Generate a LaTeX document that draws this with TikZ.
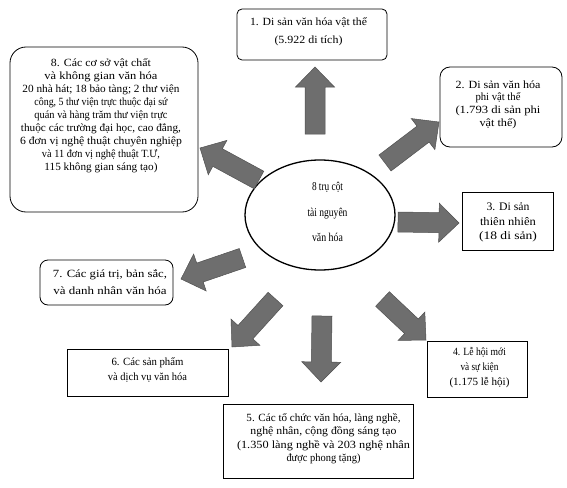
\documentclass[tikz,border=0pt]{standalone}
\usepackage{fontspec}
\usepackage{graphicx}
\setmainfont{Liberation Serif}
\usetikzlibrary{calc,shapes.geometric}
\definecolor{arrowgrey}{RGB}{110,110,110}
\definecolor{arrowedge}{RGB}{80,80,80}
\tikzset{
 box/.style={draw=black, line width=0.8pt, inner sep=0pt},
 txt/.style={align=center, inner sep=0pt, font={\fontsize{11}{13}\selectfont}},
 arrowfill/.style={fill=arrowgrey, draw=arrowedge, line width=0.5pt, line join=miter},
}
\newcommand\fitline[2]{\resizebox{#1pt}{\height}{#2}}
\newcommand\blockarrow[2]{%
  \coordinate (#1-base) at ($(#2)!20pt!(#1)$);
  \filldraw[arrowfill] ($(#1)!10pt!90:(#2)$) -- ($(#1-base)!10pt!90:(#2)$) -- ($(#1-base)!19.5pt!90:(#2)$) -- (#2)
    -- ($(#1-base)!19.5pt!-90:(#2)$) -- ($(#1-base)!10pt!-90:(#2)$) -- ($(#1)!10pt!-90:(#2)$) -- cycle;
}
\begin{document}
\begin{tikzpicture}[x=1pt,y=-1pt]
\useasboundingbox (0,0) rectangle (567,487);
\fill[white] (0,0) rectangle (567,487);
% boxes
\node[box, rounded corners=5pt, minimum width=150pt, minimum height=51pt] (b1) at (312,34.5) {};
\node[box, rounded corners=10pt, minimum width=122pt, minimum height=80pt] (b2) at (501,107) {};
\node[box, minimum width=91pt, minimum height=58pt] (b3) at (507.5,221) {};
\node[box, minimum width=100pt, minimum height=56pt] (b4) at (477,369) {};
\node[box, minimum width=190pt, minimum height=74pt] (b5) at (318,441) {};
\node[box, minimum width=161pt, minimum height=47pt] (b6) at (147.5,372.5) {};
\node[box, rounded corners=8pt, minimum width=133pt, minimum height=45pt] (b7) at (106.5,282.5) {};
\node[box, rounded corners=16pt, minimum width=188pt, minimum height=165pt] (b8) at (104,129.5) {};
\node[draw=black, line width=1.3pt, ellipse, minimum width=150pt, minimum height=110pt, inner sep=0pt] (c) at (320,215) {};
% texts
\node[txt, font={\fontsize{11}{18}\selectfont}] (t1) at (308.5,31.5) {\fitline{117}{1. Di sản văn hóa vật thể}\\\fitline{68}{(5.922 di tích)}};
\node[txt, font={\fontsize{11}{12.7}\selectfont}] (t2) at (498,104.5) {\fitline{85}{2. Di sản văn hóa}\\\fitline{45}{phi vật thể}\\\fitline{85}{(1.793 di sản phi}\\\fitline{37}{vật thể)}};
\node[txt, font={\fontsize{11.5}{14.5}\selectfont}] (t3) at (508,222.5) {\fitline{43}{3. Di sản}\\\fitline{56}{thiên nhiên}\\\fitline{58}{(18 di sản)}};
\node[txt, font={\fontsize{11}{15}\selectfont}] (t4) at (479.5,367.5) {\fitline{53}{4. Lễ hội mới}\\\fitline{38}{và sự kiện}\\\fitline{60}{(1.175 lễ hội)}};
\node[txt, font={\fontsize{11}{13.4}\selectfont}] (t5) at (323.5,438.5) {\fitline{154}{5. Các tổ chức văn hóa, làng nghề,}\\\fitline{146}{nghệ nhân, cộng đồng sáng tạo}\\\fitline{173}{(1.350 làng nghề và 203 nghệ nhân}\\\fitline{74}{được phong tặng)}};
\node[txt, font={\fontsize{11}{15.7}\selectfont}] (t6) at (147.5,370) {\fitline{72}{6. Các sản phẩm}\\\fitline{79}{và dịch vụ văn hóa}};
\node[txt, font={\fontsize{11}{16.7}\selectfont}] (t7) at (110,282) {\fitline{114}{7. Các giá trị, bản sắc,}\\\fitline{113}{và danh nhân văn hóa}};
\node[txt, font={\fontsize{11}{12.93}\selectfont}] (t8) at (101,115.5) {\fitline{100}{8. Các cơ sở vật chất}\\\fitline{113}{và không gian văn hóa}\\\fitline{157}{20 nhà hát; 18 bảo tàng; 2 thư viện}\\\fitline{133}{công, 5 thư viện trực thuộc đại sứ}\\\fitline{133}{quán và hàng trăm thư viện trực}\\\fitline{160}{thuộc các trường đại học, cao đẳng,}\\\fitline{162}{6 đơn vị nghệ thuật chuyên nghiệp}\\\fitline{118}{và 11 đơn vị nghệ thuật T.Ư,}\\\fitline{113}{115 không gian sáng tạo)}};
\node[txt, font={\fontsize{12}{25.5}\selectfont}] (tc) at (327.5,212) {\fitline{31}{8 trụ cột}\\\fitline{40}{tài nguyên}\\\fitline{31}{văn hóa}};
% arrows
\coordinate (s1) at (315,134); \coordinate (e1) at (315,67);
\coordinate (s2) at (385,163); \coordinate (e2) at (439,122);
\coordinate (s3) at (398,222); \coordinate (e3) at (459,223);
\coordinate (s4) at (382.5,299); \coordinate (e4) at (426,340);
\coordinate (s5) at (322,316); \coordinate (e5) at (321,382);
\coordinate (s6) at (275.5,299); \coordinate (e6) at (232,347);
\coordinate (s7) at (242.5,258); \coordinate (e7) at (181,279);
\coordinate (s8) at (259,180); \coordinate (e8) at (200,148);
\blockarrow{s1}{e1}
\blockarrow{s2}{e2}
\blockarrow{s3}{e3}
\blockarrow{s4}{e4}
\blockarrow{s5}{e5}
\blockarrow{s6}{e6}
\blockarrow{s7}{e7}
\blockarrow{s8}{e8}
\end{tikzpicture}
\end{document}
